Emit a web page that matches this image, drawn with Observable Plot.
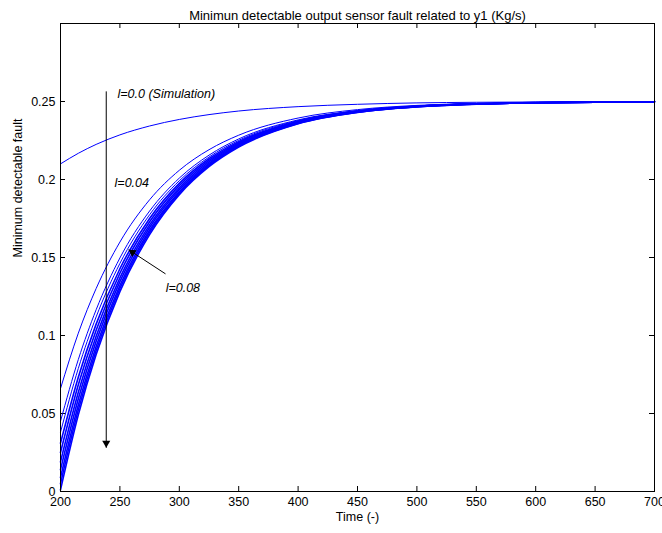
<!DOCTYPE html>
<html>
<head>
<meta charset="utf-8">
<script src="https://cdn.jsdelivr.net/npm/d3@7"></script>
<script src="https://cdn.jsdelivr.net/npm/@observablehq/plot@0.6"></script>
<style>
  html, body { margin: 0; padding: 0; background: #fff; }
  #chart svg { display: block; }
</style>
</head>
<body>
<div id="chart"></div>
<script>
const title = "Minimun detectable output sensor fault related to y1 (Kg/s)";
const xLabel = "Time (-)";
const yLabel = "Minimum detectable fault";
const xTicks = [200, 250, 300, 350, 400, 450, 500, 550, 600, 650, 700];
const yTicks = [0, 0.05, 0.1, 0.15, 0.2, 0.25];

const times = [200, 215, 230, 250, 275, 300, 325, 350, 400, 450, 500, 550, 600, 700];
const sim = [0.21, 0.2168, 0.2225, 0.2286, 0.2343, 0.2385, 0.2416, 0.2439, 0.2467, 0.2482, 0.2491, 0.2495, 0.2497, 0.2499];
const c1  = [0.066, 0.1015, 0.1301, 0.1599, 0.1870, 0.2059, 0.2191, 0.2284, 0.2394, 0.2448, 0.2475, 0.2488, 0.2494, 0.2499];
const c2  = [0.045, 0.0846, 0.1165, 0.1497, 0.1798, 0.2009, 0.2156, 0.2260, 0.2382, 0.2442, 0.2472, 0.2486, 0.2493, 0.2498];
const c3  = [0.038, 0.0789, 0.1119, 0.1462, 0.1774, 0.1992, 0.2144, 0.2251, 0.2378, 0.2440, 0.2471, 0.2486, 0.2493, 0.2498];
const c4  = [0.031, 0.0733, 0.1073, 0.1428, 0.1750, 0.1975, 0.2133, 0.2243, 0.2374, 0.2438, 0.2470, 0.2485, 0.2493, 0.2498];
const c5  = [0.025, 0.0684, 0.1034, 0.1399, 0.1729, 0.1961, 0.2123, 0.2236, 0.2371, 0.2437, 0.2469, 0.2485, 0.2493, 0.2498];
const c6  = [0.019, 0.0636, 0.0995, 0.1369, 0.1709, 0.1946, 0.2113, 0.2229, 0.2367, 0.2435, 0.2468, 0.2484, 0.2492, 0.2498];
const c7  = [0.014, 0.0595, 0.0963, 0.1345, 0.1692, 0.1934, 0.2104, 0.2223, 0.2365, 0.2434, 0.2468, 0.2484, 0.2492, 0.2498];
const c8  = [0.009, 0.0555, 0.0930, 0.1320, 0.1675, 0.1922, 0.2096, 0.2217, 0.2362, 0.2432, 0.2467, 0.2484, 0.2492, 0.2498];
const c9  = [0.005, 0.0523, 0.0904, 0.1301, 0.1661, 0.1913, 0.2089, 0.2213, 0.2359, 0.2431, 0.2466, 0.2483, 0.2492, 0.2498];
const c10 = [0.001, 0.0491, 0.0878, 0.1281, 0.1647, 0.1903, 0.2082, 0.2208, 0.2357, 0.2430, 0.2466, 0.2483, 0.2492, 0.2498];

const seriesNames = ["sim", "c1", "c2", "c3", "c4", "c5", "c6", "c7", "c8", "c9", "c10"];
const seriesValues = [sim, c1, c2, c3, c4, c5, c6, c7, c8, c9, c10];
const bundleNames = ["c4", "c5", "c6", "c7", "c8", "c9", "c10"];

// annotations (data coordinates)
const labelText = ["l=0.0 (Simulation)", "l=0.04", "l=0.08"];
const labelX = [248, 245.5, 288.5];
const labelY = [0.2545, 0.1975, 0.1305];
const arrow1 = {x1: 238.5, y1: 0.2565, x2: 238.5, y2: 0.028};
const arrow2 = {x1: 288.4, y1: 0.1395, x2: 257.3, y2: 0.155};

const rows = [];
seriesNames.forEach((name, i) => {
  times.forEach((t, j) => rows.push({series: name, t, v: seriesValues[i][j], bundle: bundleNames.includes(name)}));
});
const labels = labelText.map((s, i) => ({s, x: labelX[i], y: labelY[i]}));

const W = 662, H = 533;
const mL = 60, mR = 8, mT = 23, mB = 42;
const fw = W - mL - mR, fh = H - mT - mB;
const font = "'Liberation Sans', Arial, Helvetica, sans-serif";
const fs = 12.5;

const plot = Plot.plot({
  width: W,
  height: H,
  marginLeft: mL,
  marginRight: mR,
  marginTop: mT,
  marginBottom: mB,
  style: {fontFamily: font, fontSize: fs + "px", background: "#fff", color: "#000"},
  x: {domain: [200, 700]},
  y: {domain: [0, 0.3]},
  marks: [
    Plot.axisX(xTicks, {tickSize: 0, tickPadding: 6, fontSize: fs, label: null, tickFormat: d => String(d)}),
    Plot.axisY(yTicks, {tickSize: 0, tickPadding: 5, fontSize: fs, label: null, tickFormat: d => String(d)}),
    Plot.tickX(xTicks, {x: d => d, insetTop: fh - 5, stroke: "#000"}),
    Plot.tickX(xTicks, {x: d => d, insetBottom: fh - 5, stroke: "#000"}),
    Plot.tickY(yTicks, {y: d => d, insetRight: fw - 5, stroke: "#000"}),
    Plot.tickY(yTicks, {y: d => d, insetLeft: fw - 5, stroke: "#000"}),
    Plot.line(rows.filter(d => !d.bundle), {x: "t", y: "v", z: "series", stroke: "#0000ff", strokeWidth: 1, curve: "monotone-x"}),
    Plot.line(rows.filter(d => d.bundle), {x: "t", y: "v", z: "series", stroke: "#0000ff", strokeWidth: 1.6, curve: "monotone-x"}),
    Plot.link([arrow1], {x1: "x1", y1: "y1", x2: "x2", y2: "y2", stroke: "#000", strokeWidth: 1}),
    Plot.dot([arrow1], {x: "x2", y: "y2", symbol: "triangle", r: 3, rotate: 180, dy: -4.7, fill: "#000", stroke: "none"}),
    Plot.link([arrow2], {x1: "x1", y1: "y1", x2: "x2", y2: "y2", stroke: "#000", strokeWidth: 1}),
    Plot.dot([arrow2], {x: "x2", y: "y2", symbol: "triangle", r: 3, rotate: -57, dx: 3.9, dy: 2.6, fill: "#000", stroke: "none"}),
    Plot.text(labels, {x: "x", y: "y", text: "s", textAnchor: "start", fontStyle: "italic", fontSize: fs, fill: "#000"}),
    Plot.frame({stroke: "#000"}),
    Plot.text([title], {frameAnchor: "top", dy: -13, fontSize: 13, fill: "#000"}),
    Plot.text([xLabel], {frameAnchor: "bottom", dy: 29, fontSize: fs, fill: "#000"}),
    Plot.text([yLabel], {frameAnchor: "left", dx: -43, rotate: -90, fontSize: fs, fill: "#000"})
  ]
});
document.getElementById("chart").appendChild(plot);
</script>
</body>
</html>
